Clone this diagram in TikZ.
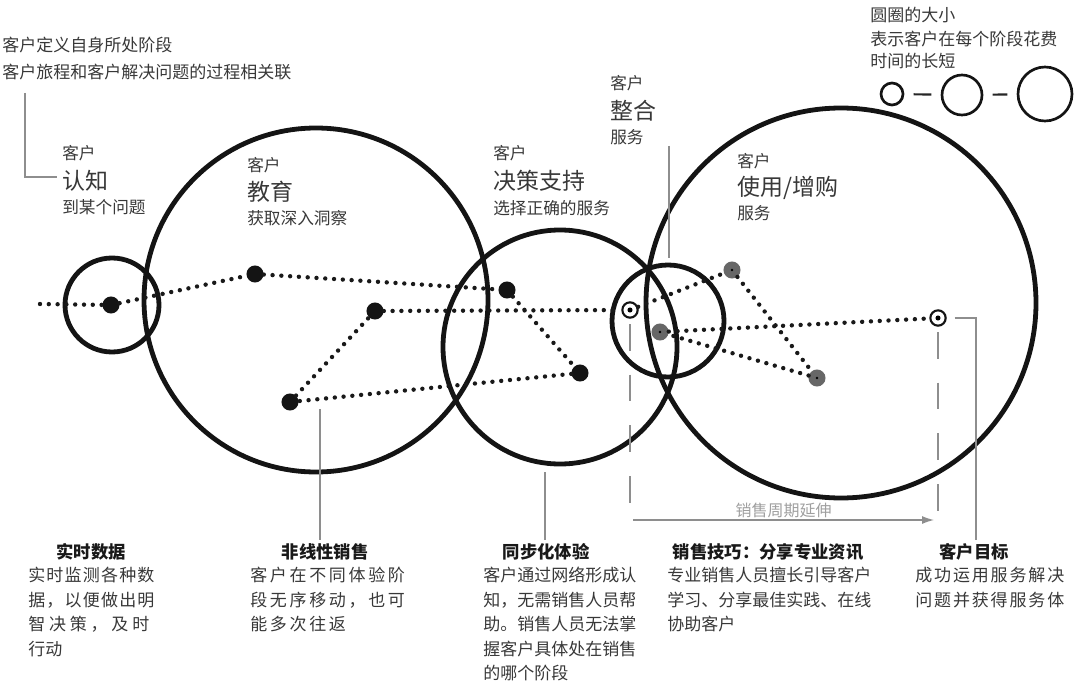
\documentclass[tikz,border=0pt]{standalone}
\usepackage{fontspec}
\setmainfont{Noto Sans CJK SC}
\usetikzlibrary{arrows.meta}

\definecolor{txt}{HTML}{383838}
\definecolor{ann}{HTML}{8E8E8E}
\definecolor{gdot}{HTML}{676767}

\newcommand\fsmall{\fontsize{12.5pt}{15pt}\selectfont}
\newcommand\fbig{\fontsize{17.2pt}{20pt}\selectfont}
\newcommand\fbody{\fontsize{12.75pt}{18.4pt}\selectfont}
\newcommand\fhead{\fontsize{13pt}{16pt}\selectfont\bfseries}

% spread the characters of a line a little
\makeatletter
\newcommand\spreadline[2]{\@tfor\sp@ch:=#2\do{\sp@ch\hspace{#1}}\unskip}
\makeatother

\tikzset{
  stage/.style={line width=3.6pt, draw=black!92},
  legcirc/.style={circle, draw=black!92, line width=2pt, inner sep=0pt},
  legdash/.style={line width=1.6pt, draw=black!85, shorten <=7pt, shorten >=7pt},
  bdot/.style={circle, fill=black!92, inner sep=0pt, minimum size=12.8pt},
  greydot/.style={circle, fill=gdot, inner sep=0pt, minimum size=12.8pt,
    path picture={\fill[black] (path picture bounding box.center) circle (1.1pt);}},
  ring/.style={circle, draw=black!92, line width=1.6pt, fill=white, inner sep=0pt, minimum size=11.5pt,
    path picture={\fill[black] (path picture bounding box.center) circle (1.9pt);}},
  route/.style={line width=3.3pt, line cap=round, dash pattern=on 0pt off 6.6pt, draw=black!90},
  annline/.style={draw=ann, line width=0.9pt},
  anndash/.style={annline, dash pattern=on 20pt off 18pt},
  lbl/.style={anchor=west, inner sep=0pt, text=txt},
  head/.style={inner sep=0pt, text=black!90, font=\fhead},
  body/.style={anchor=north west, inner sep=0pt, text=txt, align=left, font=\fbody},
}

\begin{document}
\begin{tikzpicture}[x=0.75pt, y=-0.75pt]
  \useasboundingbox (0,0) rectangle (1077,681);

  % stage circles
  \draw[stage] (112,305) circle [radius=47];
  \draw[stage] (316,300) circle [radius=172];
  \draw[stage] (560,347) circle [radius=117];
  \draw[stage] (668,321) circle [radius=56];
  \draw[stage] (841,303) circle [radius=195];

  % texts at the top left
  \node[lbl, font=\fbody] (def1) at (2,45) {客户定义自身所处阶段};
  \node[lbl, font=\fbody] (def2) at (2,72) {客户旅程和客户解决问题的过程相关联};

  % stage labels
  \node[lbl, font=\fsmall] (awk) at (62,153) {客户};
  \node[lbl, font=\fbig]   (awt) at (62,181) {认知};
  \node[lbl, font=\fsmall] (awd) at (62,207) {到某个问题};

  \node[lbl, font=\fsmall] (edk) at (247,165) {客户};
  \node[lbl, font=\fbig]   (edt) at (247,192) {教育};
  \node[lbl, font=\fsmall] (edd) at (247,218) {获取深入洞察};

  \node[lbl, font=\fsmall] (dck) at (493,153) {客户};
  \node[lbl, font=\fbig]   (dct) at (493,181) {决策支持};
  \node[lbl, font=\fsmall] (dcd) at (493,208) {选择正确的服务};

  \node[lbl, font=\fsmall] (ink) at (610,83) {客户};
  \node[lbl, font=\fbig]   (int) at (610,111) {整合};
  \node[lbl, font=\fsmall] (ind) at (610,137) {服务};

  \node[lbl, font=\fsmall] (usk) at (737,161) {客户};
  \node[lbl, font=\fbig]   (ust) at (737,188) {使用/增购};
  \node[lbl, font=\fsmall] (usd) at (737,213) {服务};

  % legend
  \node[lbl, font=\fbody] (lg1) at (870,15) {圆圈的大小};
  \node[lbl, font=\fbody] (lg2) at (870,39) {表示客户在每个阶段花费};
  \node[lbl, font=\fbody] (lg3) at (870,61) {时间的长短};
  \node[legcirc, minimum size=16.5pt] (lc1) at (892,94) {};
  \node[legcirc, minimum size=30pt]   (lc2) at (962,95) {};
  \node[legcirc, minimum size=40.5pt] (lc3) at (1045,94) {};
  \draw[legdash] (lc1) -- (lc2);
  \draw[legdash] (lc2) -- (lc3);

  % points of the journey
  \coordinate (start) at (40,304);
  \node[bdot] (d1) at (111,305) {};
  \node[bdot] (d2) at (255,274) {};
  \node[bdot] (d3) at (375,311) {};
  \node[bdot] (d4) at (290,402) {};
  \node[bdot] (d5) at (507,290) {};
  \node[bdot] (d6) at (580,373) {};
  \node[ring] (d7) at (630,310) {};
  \node[greydot] (d8) at (660,332) {};
  \node[greydot] (d9) at (732,270) {};
  \node[greydot] (d10) at (817,378) {};
  \node[ring] (d11) at (938,318) {};

  \draw[route] (start) -- (d1) -- (d2) -- (d5) -- (d6) -- (d4) -- (d3) -- (d7);
  \draw[route] (d7) -- (d9) -- (d10) -- (d8) -- (d11);

  % annotation lines
  \coordinate (brA) at (25,93);
  \coordinate (brB) at (57,177);
  \draw[annline] (brA) |- (brB);

  \coordinate (nlA) at (320,409);
  \coordinate (nlB) at (320,540);
  \draw[annline] (nlA) -- (nlB);

  \coordinate (syA) at (545,472);
  \coordinate (syB) at (545,540);
  \draw[annline] (syA) -- (syB);

  \coordinate (inA) at (669,146);
  \coordinate (inB) at (669,258);
  \draw[annline] (inA) -- (inB);

  \coordinate (cyA) at (630,520);
  \coordinate (cyB) at (938,520);
  \draw[anndash, shorten <=4pt] (d7) -- (cyA);
  \draw[anndash, shorten <=4pt] (d11) -- (cyB);

  \coordinate (arA) at (633,520);
  \coordinate (arB) at (934,520);
  \draw[annline, -{Latex[length=9pt, width=6pt]}] (arA) -- (arB)
    node[midway, above=-2.5pt, text=ann!85, font=\fontsize{12pt}{14pt}\selectfont] (cyc) {销售周期延伸};

  \coordinate (goB) at (976,540);
  \draw[annline, shorten <=6pt] (d11.east) -| (goB);

  % notes at the bottom
  \node[head] (h1) at (91,552) {实时数据};
  \node[body] (b1) at (28,567) {\spreadline{0.9pt}{实时监测各种数}\\\spreadline{0.9pt}{据，以便做出明}\\智 决 策 ， 及 时\\行动};

  \node[head] (h2) at (325,552) {非线性销售};
  \node[body] (b2) at (250,567) {\spreadline{2pt}{客户在不同体验阶}\\\spreadline{2pt}{段无序移动，也可}\\\spreadline{2pt}{能多次往返}};

  \node[head] (h3) at (546,552) {同步化体验};
  \node[body] (b3) at (483,567) {客户通过网络形成认\\知，无需销售人员帮\\助。销售人员无法掌\\握客户具体处在销售\\的哪个阶段};

  \node[head] (h4) at (768,552) {销售技巧：分享专业资讯};
  \node[body] (b4) at (667,567) {专业销售人员擅长引导客户\\学习、分享最佳实践、在线\\协助客户};

  \node[head] (h5) at (974,552) {客户目标};
  \node[body] (b5) at (915,567) {\spreadline{1.4pt}{成功运用服务解决}\\\spreadline{1.4pt}{问题并获得服务体}};
\end{tikzpicture}
\end{document}
